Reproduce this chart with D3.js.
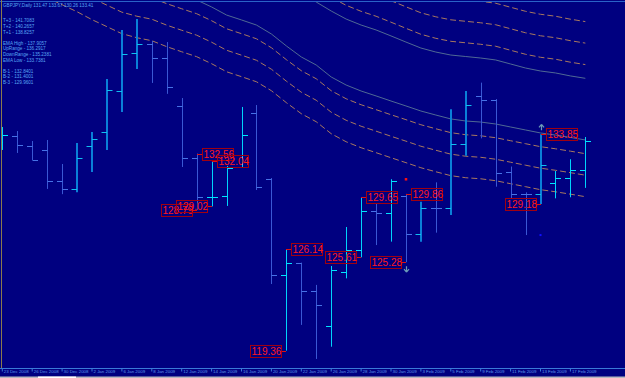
<!DOCTYPE html>
<html>
<head>
<meta charset="utf-8">
<script src="https://cdn.jsdelivr.net/npm/d3@7"></script>
<style>
  html, body { margin: 0; padding: 0; background: #000080; }
  svg { display: block; }
</style>
</head>
<body>
<svg id="chart" width="625" height="378"></svg>
<script>
// GBPJPY daily bars
const dates = ["23 Dec 2008","24 Dec 2008","26 Dec 2008","29 Dec 2008","30 Dec 2008","31 Dec 2008",
  "2 Jan 2009","5 Jan 2009","6 Jan 2009","7 Jan 2009","8 Jan 2009","9 Jan 2009","12 Jan 2009","13 Jan 2009",
  "14 Jan 2009","15 Jan 2009","16 Jan 2009","19 Jan 2009","20 Jan 2009","21 Jan 2009","22 Jan 2009","23 Jan 2009",
  "26 Jan 2009","27 Jan 2009","28 Jan 2009","29 Jan 2009","30 Jan 2009","2 Feb 2009","3 Feb 2009","4 Feb 2009",
  "5 Feb 2009","6 Feb 2009","9 Feb 2009","10 Feb 2009","11 Feb 2009","12 Feb 2009","13 Feb 2009","16 Feb 2009",
  "17 Feb 2009","18 Feb 2009"];

const open  = [133.33,133.74,133.07,132.80,130.72,130.19,133.07,134.00,136.75,139.30,139.90,138.97,135.75,132.28,
  129.65,129.72,131.66,135.28,130.83,124.41,125.25,123.37,121.00,124.65,126.13,128.69,128.58,129.70,127.19,128.93,
  128.93,133.22,136.40,136.17,131.34,129.85,129.85,130.57,130.90,131.47];
const high  = [134.34,134.07,133.40,133.47,131.86,133.27,134.00,137.55,140.84,141.58,140.10,140.03,136.28,132.56,
  132.04,131.73,135.68,135.81,130.92,126.14,125.25,123.76,125.03,127.64,129.65,129.23,130.84,129.86,129.33,130.63,
  135.52,136.75,137.31,136.21,131.69,129.96,133.85,131.39,132.18,133.67];
const low   = [132.80,132.60,132.13,130.19,129.84,129.97,131.32,132.80,135.34,138.23,137.29,136.56,131.66,128.79,
  129.02,129.05,131.66,130.12,123.82,119.36,121.08,118.80,119.62,124.20,125.61,126.43,126.66,125.28,126.66,127.26,
  128.44,132.42,133.58,130.34,129.54,127.10,129.18,129.56,129.63,130.26];
const close = [133.80,133.13,132.13,130.72,130.19,132.26,133.54,136.82,139.23,139.90,138.97,137.02,132.28,129.65,
  129.65,131.59,133.80,130.32,124.41,125.25,123.33,122.42,124.74,126.08,128.69,128.58,130.70,127.19,128.93,128.93,
  133.22,135.81,136.17,131.28,129.85,129.85,131.79,130.90,131.44,133.41];
// bar colour class: c = cyan, d = dodger blue, s = slate blue
const barKind = ["c","s","s","s","s","d","d","d","d","d","s","s","s","s","c","c","c","s","s","c",
  "s","s","c","c","c","s","c","s","d","s","d","d","s","s","s","s","d","c","c","c"];

const emaHigh = [152.56,152.23,151.89,151.49,151.02,150.55,150.02,149.55,149.08,148.81,148.61,148.21,147.87,147.54,
  147.07,146.53,146.20,145.86,145.26,144.32,143.38,142.71,142.11,141.57,141.17,140.84,140.44,140.03,139.63,139.36,
  139.16,139.06,138.96,138.83,138.56,138.29,138.09,137.96,137.76,137.60];
const emaLow  = [147.87,147.54,147.20,146.80,146.33,145.86,145.33,144.86,144.39,144.12,143.92,143.52,143.18,142.85,
  142.38,141.84,141.51,141.17,140.57,139.77,139.03,138.49,137.69,137.15,136.75,136.42,136.08,135.75,135.41,135.14,
  134.88,134.74,134.67,134.54,134.34,134.14,133.94,133.80,133.64,133.47];
// band distances from the EMA lines (T+1..T+3 above EMA High, B-1..B-3 below EMA Low)
const bandOffsets = [0.92, 2.36, 3.80];

const labelBars = [13, 14, 19, 24, 27, 36];
const upArrowBars = [36];
const downArrowBars = [27];
const redDots = [[27, 130.84]];
const blueDots = [[36, 127.10]];

const legendLines = [
  ["GBPJPY,Daily  131.47 133.67 130.26 133.41", 6.5],
  ["T+3 - 141.7083", 22.3], ["T+2 - 140.2657", 28], ["T+1 - 138.8257", 33.8],
  ["EMA High - 137.9057", 45], ["UpRange - 136.2917", 50.4], ["DownRange - 135.2381", 56], ["EMA Low - 133.7381", 62],
  ["B-1 - 132.8401", 73], ["B-2 - 131.4001", 78.4], ["B-3 - 129.9601", 84]
];

const width = 625, height = 378, plotBottom = 368;

const svg = d3.select("#chart");
svg.append("rect").attr("width", width).attr("height", height).attr("fill", "#000080");

const x = d3.scaleLinear().domain([0, 40]).range([2.3, 600.3]);
const y = d3.scaleLinear().domain([118.194, 142.847]).range([plotBottom, 0]);

svg.append("defs").append("clipPath").attr("id", "plot")
  .append("rect").attr("x", 2).attr("y", 2).attr("width", width - 2).attr("height", plotBottom - 2);

const plot = svg.append("g").attr("clip-path", "url(#plot)");

// envelope lines
const line = d3.line().x((d, i) => x(i)).y(d => y(d));
const solidColour = "#4f6994", dashColour = "#a8785f";

bandOffsets.forEach(off => {
  plot.append("path").attr("d", line(emaHigh.map(v => v + off)))
    .attr("fill", "none").attr("stroke", dashColour).attr("stroke-dasharray", "6,3");
  plot.append("path").attr("d", line(emaLow.map(v => v - off)))
    .attr("fill", "none").attr("stroke", dashColour).attr("stroke-dasharray", "6,3");
});
[emaHigh, emaLow].forEach(s => {
  plot.append("path").attr("d", line(s)).attr("fill", "none").attr("stroke", solidColour);
});

// OHLC bars
const barColour = { c: "#00d4fb", d: "#0a80d8", s: "#3a58d4" };
const tickColour = { c: "#00e4ff", d: "#10c0f0", s: "#4672e6" };
const bars = plot.append("g").selectAll("g").data(d3.range(open.length)).join("g");
bars.each(function(i) {
  const g = d3.select(this);
  const w = barKind[i] === "d" ? 2 : 1;
  const cx = w === 2 ? Math.round(x(i)) : Math.round(x(i)) + 0.5;
  g.append("line").attr("x1", cx).attr("x2", cx)
    .attr("y1", y(high[i])).attr("y2", y(low[i]))
    .attr("stroke", barColour[barKind[i]]).attr("stroke-width", w);
  const yo = Math.round(y(open[i])) + 0.5, yc = Math.round(y(close[i])) + 0.5;
  g.append("line").attr("x1", cx - 5.5).attr("x2", cx).attr("y1", yo).attr("y2", yo)
    .attr("stroke", tickColour[barKind[i]]);
  g.append("line").attr("x1", cx).attr("x2", cx + 5.5).attr("y1", yc).attr("y2", yc)
    .attr("stroke", tickColour[barKind[i]]);
});

// markers
redDots.forEach(([i, p]) => {
  plot.append("rect").attr("x", x(i) - 1.2).attr("y", y(p) - 1.2).attr("width", 2.5).attr("height", 2.5).attr("fill", "#ff1010");
});
blueDots.forEach(([i, p]) => {
  plot.append("rect").attr("x", x(i) - 1).attr("y", y(p) - 1).attr("width", 2).attr("height", 2).attr("fill", "#1010ff");
});
const arrowColour = "#6a9cb8";
upArrowBars.forEach(i => {
  const cx = Math.round(x(i)) + 0.5, t = y(high[i]) - 10;
  plot.append("path").attr("d", `M${cx},${t}L${cx - 2.5},${t + 3}M${cx},${t}L${cx + 2.5},${t + 3}M${cx},${t}V${t + 6}`)
    .attr("stroke", arrowColour).attr("stroke-width", 1.2).attr("fill", "none");
});
downArrowBars.forEach(i => {
  const cx = Math.round(x(i)) + 0.5, t = y(low[i]) + 10;
  plot.append("path").attr("d", `M${cx},${t}L${cx - 2.5},${t - 3}M${cx},${t}L${cx + 2.5},${t - 3}M${cx},${t}V${t - 6}`)
    .attr("stroke", arrowColour).attr("stroke-width", 1.2).attr("fill", "none");
});

// swing labels: highs to the right of the bar, lows to the left
const labels = plot.append("g").attr("font-family", "'Liberation Sans', Arial, sans-serif").attr("font-size", 10);
labelBars.forEach(i => {
  [["high", high[i]], ["low", low[i]]].forEach(([side, v]) => {
    const bx = Math.round(x(i)), py = y(v);
    const boxX = side === "high" ? bx + 5.5 : bx - 35.5;
    const lx1 = side === "high" ? bx : bx - 4.5, lx2 = side === "high" ? bx + 5.5 : bx;
    labels.append("line").attr("x1", lx1).attr("x2", lx2).attr("y1", Math.round(py) + 0.5).attr("y2", Math.round(py) + 0.5)
      .attr("stroke", "#e01010");
    labels.append("rect").attr("x", boxX).attr("y", Math.round(py) - 5.5).attr("width", 31).attr("height", 12)
      .attr("fill", "none").attr("stroke", "#a00010");
    labels.append("text").attr("x", boxX + 1).attr("y", Math.round(py) + 4)
      .attr("fill", "#ff1a1a").text(v.toFixed(2));
  });
});

// legend block
svg.append("g").attr("font-family", "'Liberation Sans', Arial, sans-serif").attr("font-size", 4.6)
  .attr("fill", "#58a6f4")
  .selectAll("text").data(legendLines).join("text")
  .attr("x", 3).attr("y", d => d[1]).text(d => d[0]);

// frame
svg.append("line").attr("x1", 0).attr("x2", width).attr("y1", 1.5).attr("y2", 1.5).attr("stroke", "#2a62c8");
svg.append("line").attr("x1", 1.5).attr("x2", 1.5).attr("y1", 0).attr("y2", plotBottom).attr("stroke", "#8a7a4c");

// date axis
const axis = d3.axisBottom(x)
  .tickValues(d3.range(0, dates.length, 2))
  .tickFormat(i => dates[i])
  .tickSize(3).tickPadding(0);
const ax = svg.append("g").attr("transform", `translate(-0.5,${plotBottom + 0.5})`).call(axis);
ax.select(".domain").remove();
ax.selectAll(".tick line").attr("stroke", "#3a7ad8");
ax.selectAll(".tick text")
  .attr("text-anchor", "start").attr("x", 1.5).attr("y", 1.2).attr("dy", "0.71em")
  .attr("fill", "#5e98e8").attr("font-size", 4.4).attr("font-family", "'Liberation Sans', Arial, sans-serif");
svg.append("line").attr("x1", 0).attr("x2", width).attr("y1", plotBottom + 0.5).attr("y2", plotBottom + 0.5)
  .attr("stroke", "#3a7ad8");

// window strip below the chart
svg.append("rect").attr("x", 0).attr("y", 376.5).attr("width", width).attr("height", 1.5).attr("fill", "#b8b8c0");
svg.append("rect").attr("x", 38).attr("y", 376.5).attr("width", 38).attr("height", 1.5).attr("fill", "#ffffff");
</script>
</body>
</html>
